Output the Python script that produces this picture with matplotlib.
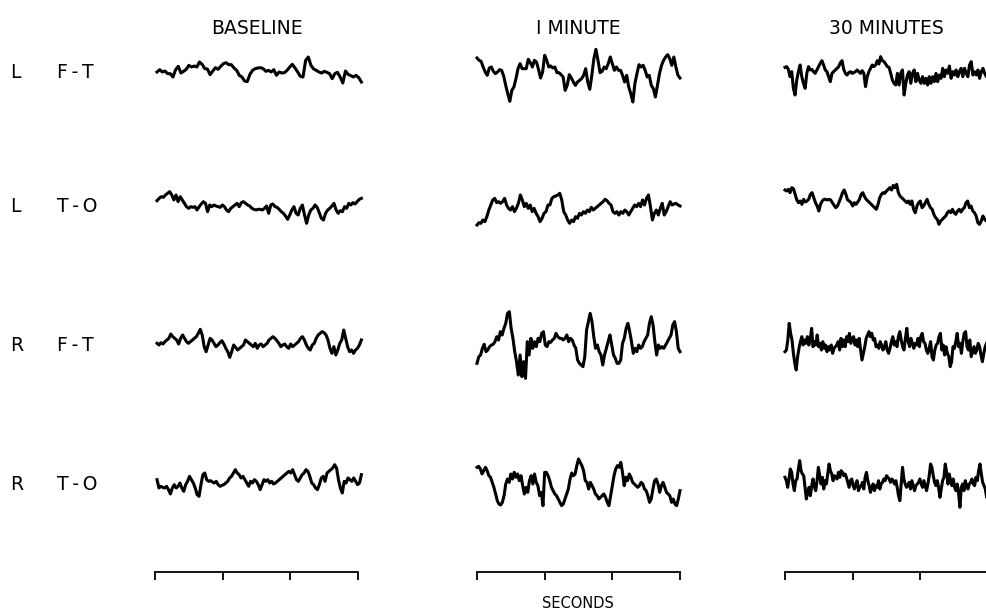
import numpy as np
import matplotlib
matplotlib.use("Agg")
import matplotlib.pyplot as plt

# EEG traces, amplitude (1 unit = 1/3 px of the original)
columns = ["BASELINE", "I MINUTE", "30 MINUTES"]
leads = [("L", "F\u2009-\u2009T"), ("L", "T\u2009-\u2009O"), ("R", "F\u2009-\u2009T"), ("R", "T\u2009-\u2009O")]
seconds_ticks = [0, 1, 2, 3]

lft_base = [0, 7, 0, 3, -5, -5, -15, 7, 17, -3, 2, 8, 20, 15, 18, 15, 30, 23, 10, 9, -8, 3, 13, 8, 17, 25,
            28, 22, 22, 12, 5, -10, -15, -27, -29, -7, 5, 10, 12, 13, 10, 2, 5, 0, 7, -10, 0, -3, -2, 5, 15,
            23, 12, 0, -13, -15, 35, 45, 20, 9, 5, 0, -3, 2, -1, -5, -20, -5, -1, -15, -33, 3, -7, -11, -15,
            -10, -17, -30]
lft_1min = [42, 35, 32, 15, 0, -10, 12, 15, 2, -5, 0, 7, 5, -12, -40, -65, -88, -55, -45, -20, 10, 25, 10,
            10, 10, 38, 28, 15, 35, 30, 8, -18, 0, 50, 35, 15, 18, 12, 15, -2, -2, -8, -15, -55, -40, -8, -18,
            -30, -40, -30, -25, -20, -10, 10, -30, -52, -10, 40, 68, 35, -2, 2, 15, 10, 25, 45, 25, 5, 15, 5,
            5, -10, -30, -10, -45, -65, -90, -35, -5, 22, 15, 20, 5, -15, -10, -40, -50, -75, -40, -5, 20, 35,
            45, 52, 40, 20, 45, 15, -10, -18]
lft_30min = [14, 16, 8, -14, 1, -49, -69, -24, 1, 21, -14, -34, -49, -4, 16, 6, 8, 1, -4, 6, 16, 26, 34, 21,
             6, 1, -14, -29, -4, 1, 6, 11, 16, 28, 34, 8, -4, -9, -2, 1, -4, -2, 1, 6, 1, -4, 4, -4, -44, -14,
             1, 11, 21, 16, 21, 34, 24, 46, 34, 31, 24, 16, 14, -4, -24, -34, -39, -4, -39, -4, 6, -69, -34, -9,
             1, -34, -4, 6, -29, -4, -24, -34, -14, -34, -19, -39, -14, -34, -14, -29, -4, -29, -9, -19, 11,
             -14, 6, -4, 18, -19, 1, -9, 6, -14, 1, 11, -14, 11, -4, -14, 21, 31, -9, 1, -9, 6, -19, 1, 11, -4,
             -14, 1]

lto_base = [16, 23, 28, 26, 33, 38, 43, 33, 18, 33, 13, 28, 18, 8, -2, -7, -2, -4, -2, -12, -2, 6, 13, 8,
            -17, 3, -2, 3, 0, -2, -4, 3, -2, -12, -17, -7, -2, 3, 8, -2, 10, 13, 8, 3, 0, -7, -10, -12, -10,
            -10, -12, -7, 0, -22, 3, 6, -2, -4, -10, -17, -22, -30, -40, -27, -12, -2, -22, -27, -7, 3, -27,
            -52, -27, -12, -7, 3, -4, -20, -37, -42, -22, -12, -7, 0, 8, -12, -22, -14, -17, -2, -7, 8, 3, 10,
            6, 13, 20, 23]
lto_1min = [-57, -50, -52, -42, -47, -32, -12, 3, 18, 23, 10, 13, 8, 13, 23, 3, -7, -12, -2, -17, -7, 8, 33,
            18, -2, 8, -7, 3, -17, -7, -22, -32, -47, -37, -22, -17, 3, 3, 23, 28, 30, 33, 38, 18, -17, -27,
            -42, -52, -42, -47, -32, -37, -22, -27, -17, -22, -12, -17, -4, -12, -7, -2, 3, 8, 13, 20, 16, 8,
            3, -17, -22, -17, -27, -17, -22, -12, -17, -27, -17, -7, 3, -2, 8, -2, 18, 3, 23, 33, -2, -42, -22,
            -12, -27, -7, 8, -27, -17, -2, 13, 3, 6, 8, 3, 0]
lto_30min = [48, 45, 50, 40, 55, 52, 35, 18, 10, 15, 5, 20, 12, 15, 20, 35, 40, 25, 10, 0, -15, 5, 15, 20,
             20, 18, 20, 18, 10, 2, -5, 0, 12, 25, 40, 48, 35, 18, 15, 10, 0, 10, 5, 12, 20, 35, 40, 28, 20,
             15, 10, 5, 0, -5, -10, 5, 25, 35, 40, 38, 45, 50, 55, 48, 62, 55, 65, 40, 30, 25, 20, 15, 10, 15,
             5, 15, -10, -20, 0, 10, 15, -5, 0, 10, 20, 5, -5, -10, -25, -35, -40, -55, -45, -40, -35, -30,
             -20, -15, -20, -10, -20, -25, -15, -10, -18, -10, -5, 10, 15, -5, 0, -15, -20, -30, -50, -55, -45,
             -30, -40, -45, -35]

rft_base = [5, 0, 7, 3, 10, 15, 20, 33, 25, 20, 15, 3, 20, 30, 20, 10, 5, 10, 15, 20, 25, 35, 47, 30, -5,
            -20, 0, 20, 15, 5, -5, 0, 7, 13, 3, -10, -20, -37, -20, 0, -7, -15, -10, -5, 0, 15, 10, 5, 0, -5,
            5, -10, 0, 3, -5, 0, 5, 15, 20, 25, 20, 13, 5, -5, 0, 3, -5, -10, 3, -5, 0, 5, 10, 20, 25, 15, 0,
            -10, -15, 0, 5, 20, 30, 35, 40, 37, 30, 15, -10, -25, -5, -30, -15, 5, 15, 45, 20, -5, -20, -15,
            -25, -15, -10, 0, 15]
rft_1min = [-55, -35, -30, -10, 2, -20, -15, -5, 0, 2, 10, 25, 15, 40, 30, 50, 65, 95, 100, 50, 20, -20, -50,
            -90, -30, -95, -50, -100, 10, -30, 20, -10, 10, -5, 20, 10, 35, 40, 0, -5, 10, 8, 15, 20, 35, 25,
            20, 20, 15, 20, 30, 10, 20, 15, 0, -10, -45, -55, -60, -65, -35, 45, 70, 95, 70, 25, -10, 0, -20,
            -30, -60, -30, -10, 10, 30, 0, -30, -40, -55, -55, -45, 5, 20, 50, 65, 40, 10, -25, -10, -20, 0,
            -10, -5, 10, 20, 30, 65, 85, 60, 10, -30, 0, -10, -5, -10, 0, 10, 20, 30, 60, 70, 40, -10, -20]
rft_30min = [-20, -15, 15, 65, 35, 15, -25, -55, -75, -35, -10, 10, 25, 0, 15, 5, 25, 0, 15, 50, -5, 10, 0,
             30, -5, 5, -15, 10, -10, 0, -20, -5, -15, 0, -25, -10, -5, 0, 10, -15, 20, -5, 15, -5, 25, 10, 35,
             5, 20, 25, 0, 15, -5, 20, -15, -45, -25, -5, 20, 30, 40, 25, 35, 15, 20, -5, 0, -10, 10, 0, -15,
             -5, 10, -15, -25, -10, 10, 25, 0, 10, -5, 25, 40, 15, -5, -15, 20, 50, 10, -5, 20, 5, -10, 5, 0,
             20, -5, 25, 35, 10, 5, -15, -25, -10, 10, -35, -45, -15, 0, 5, 25, 35, -15, 0, -30, -5, -25, -35,
             -65, -50, -5, -10, 10, 35, -5, 5, -25, 10, 35, 40, -5, -15, 15, -35, -20, -5, -25, -15, 5, -5,
             -30, -50, -25, -5, 5, 15]

rto_base = [13, -12, -7, -10, -12, -7, -17, -30, -12, -2, -12, -7, 3, -12, -22, -2, 8, 23, 13, 3, -12, -32,
            -37, -2, 28, 33, 13, 8, 10, 6, 3, 8, -2, -7, -4, -2, 3, 8, 18, 23, 33, 43, 33, 28, 18, 23, 13, 3,
            -7, 8, 3, 13, 8, -2, -17, -2, 13, 8, 13, 3, 8, 0, 3, 8, 13, 18, 23, 28, 33, 38, 33, 43, 28, 13, 8,
            18, 28, 33, 43, 38, 23, 3, -2, -12, -17, -2, 18, 23, 8, 33, 38, 43, 48, 58, 48, 13, -12, -27, 8, 3,
            18, 13, 8, 18, 8, -2, 3, 28]
rto_1min = [50, 53, 45, 30, 40, 50, 40, 25, 20, 5, -10, -30, -50, -60, -63, -55, -35, 0, 15, 5, 30, 15, 35,
            20, 30, 10, 25, -5, -30, -10, -25, 10, 25, 0, 30, 5, -5, -35, -25, -65, 35, 35, 25, 10, -10, -20,
            -30, -35, -45, -55, -65, -60, -45, -30, -15, 15, 33, 25, 30, 55, 75, 65, 55, 40, 10, 5, -15, 5, -5,
            -15, -30, -35, -45, -40, -35, -30, -40, -55, -65, -35, -5, 25, 45, 55, 50, 65, 35, -5, 20, 10, 30,
            20, 5, 0, -5, -10, -5, 5, 0, -15, -20, -35, -55, -45, -15, 10, 15, 0, -25, -5, 5, -10, -25, -30,
            -35, -55, -45, -60, -65, -45, -20]
rto_30min = [20, 10, -10, 15, 45, 35, 0, -20, 10, 15, 45, 70, 40, 30, 25, -10, -45, -25, -10, -35, -5, 15,
             -10, -20, 10, 50, 25, 0, 20, -15, 10, 0, 30, 60, 40, 30, 10, 25, 20, 15, 35, 20, 40, 35, 25, 30,
             20, 5, -10, 10, 15, -5, -15, 0, 10, -20, -10, -5, 5, -15, 20, 35, 10, -5, -25, -10, 0, -20, -5,
             -10, 10, -15, 0, 5, 15, 10, 25, 20, 15, 5, 15, 10, 0, 10, -10, -35, -50, 0, 50, 15, 0, -10, -5, 5,
             -15, 10, -5, -20, -5, 0, 5, 15, 0, -10, 10, -5, -20, 0, 25, 60, 50, 25, 5, -5, 10, -10, -40, -15,
             10, 20, 60, 35, 0, 30, 10, -5, 15, -10, -20, 0, -30, -70, -10, 0, -20, 10, -5, -15, 0, 5, 15, 0,
             -5, 20, 10, 40, 60, 30, 5, -5, -15, -40, -20]

traces = [
    [lft_base, lft_1min, lft_30min],
    [lto_base, lto_1min, lto_30min],
    [rft_base, rft_1min, rft_30min],
    [rto_base, rto_1min, rto_30min],
]
spans = [(0.03, 3.05), (0.0, 3.0), (0.0, 3.0)]

W, H = 987, 613
fig = plt.figure(figsize=(W / 100, H / 100), dpi=100)

col_left = [155, 477, 785]
col_width = 203
ax_bottom, ax_top = 572, 30
row_px = [72, 206, 345, 484]
upp = 3.0  # amplitude units per pixel

for c, title in enumerate(columns):
    ax = fig.add_axes([col_left[c] / W, 1 - ax_bottom / H, col_width / W, (ax_bottom - ax_top) / H])
    ax.set_xlim(0, 3)
    ax.set_ylim(0, (ax_bottom - ax_top) * upp)
    for r in range(4):
        amp = np.array(traces[r][c], dtype=float)
        t = np.linspace(spans[c][0], spans[c][1], len(amp))
        base = (ax_bottom - row_px[r]) * upp
        ax.plot(t, base + amp, color="black", lw=2.2, solid_joinstyle="round", clip_on=False)
    for s in ["top", "left", "right"]:
        ax.spines[s].set_visible(False)
    ax.spines["bottom"].set_linewidth(1.3)
    ax.set_xticks(seconds_ticks)
    ax.set_xticklabels([])
    ax.set_yticks([])
    ax.tick_params(axis="x", direction="out", length=6, width=1.3)
    fig.text((col_left[c] + col_width / 2) / W, 1 - 28 / H, title, ha="center", va="center",
             fontsize=13.5)

for r, (side, pair) in enumerate(leads):
    fig.text(10 / W, 1 - row_px[r] / H, side, ha="left", va="center", fontsize=13.5)
    fig.text(57 / W, 1 - row_px[r] / H, pair, ha="left", va="center", fontsize=13.5)

fig.text(578 / W, 1 - 604 / H, "SECONDS", ha="center", va="center", fontsize=10.5)

fig.savefig("out.png", dpi=100)
